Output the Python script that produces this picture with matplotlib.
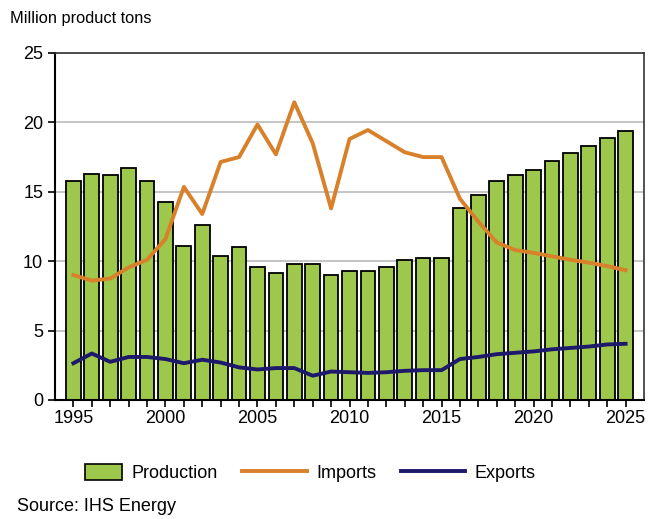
import numpy as np
import matplotlib.pyplot as plt
from matplotlib.patches import Patch
from matplotlib.lines import Line2D
from matplotlib.legend_handler import HandlerPatch

plt.rcParams['font.family'] = ['Liberation Sans', 'DejaVu Sans']

years = list(range(1995, 2026))
production = [15.8, 16.3, 16.2, 16.7, 15.8, 14.3, 11.1, 12.6, 10.35, 11.0,
              9.55, 9.15, 9.8, 9.8, 9.0, 9.3, 9.3, 9.55, 10.05, 10.2,
              10.2, 13.8, 14.75, 15.8, 16.2, 16.6, 17.25, 17.8, 18.3, 18.85, 19.4]
imports = [9.0, 8.6, 8.75, 9.55, 10.1, 11.6, 15.35, 13.4, 17.15, 17.5,
           19.85, 17.7, 21.45, 18.5, 13.8, 18.8, 19.45, 18.65, 17.85, 17.5,
           17.5, 14.5, 12.85, 11.35, 10.8, 10.6, 10.35, 10.1, 9.9, 9.65, 9.35]
exports = [2.65, 3.35, 2.75, 3.1, 3.1, 2.95, 2.65, 2.9, 2.7, 2.35,
           2.2, 2.3, 2.3, 1.75, 2.05, 2.0, 1.95, 2.0, 2.1, 2.15,
           2.15, 2.95, 3.1, 3.3, 3.4, 3.5, 3.65, 3.75, 3.85, 4.0, 4.05]

green = '#9DC84B'
orange = '#D9802A'
navy = '#1E1A6B'


# legend box for the bars is shorter than the line handles
class ShortPatch(HandlerPatch):
    def legend_artist(self, legend, orig_handle, fontsize, handlebox):
        handlebox.width = 26.5
        return super().legend_artist(legend, orig_handle, fontsize, handlebox)


fig = plt.figure(figsize=(6.62, 5.19), dpi=100)
ax = fig.add_axes([0.0831, 0.2293, 0.8897, 0.6686])

ax.bar(years, production, width=0.8, color=green, edgecolor='black', linewidth=1.3, zorder=2)
ax.plot(years, imports, color=orange, linewidth=2.8, zorder=3)
ax.plot(years, exports, color=navy, linewidth=2.8, zorder=3)

ax.set_xlim(1994.0, 2026.0)
ax.set_ylim(0, 25)
ax.set_yticks([0, 5, 10, 15, 20, 25])
ax.set_xticks(years, minor=True)
ax.set_xticks([1995, 2000, 2005, 2010, 2015, 2020, 2025])
ax.yaxis.grid(True, color='#C0C0C0', linewidth=1.3, zorder=0)
ax.set_axisbelow(True)

ax.tick_params(axis='both', labelsize=13, direction='out', length=5, width=1.2, colors='black')
ax.tick_params(axis='x', which='minor', direction='out', length=5, width=1.2)
ax.tick_params(axis='x', pad=2)
for s in ['left', 'bottom']:
    ax.spines[s].set_linewidth(1.5)
for s in ['top', 'right']:
    ax.spines[s].set_linewidth(1.2)
    ax.spines[s].set_color('#333333')

fig.text(0.015, 0.965, 'Million product tons', fontsize=11.8, va='center', ha='left')

handles = [Patch(facecolor=green, edgecolor='black', linewidth=1.2, label='Production'),
           Line2D([0], [0], color=orange, linewidth=2.8, label='Imports'),
           Line2D([0], [0], color=navy, linewidth=2.8, label='Exports')]
fig.legend(handles=handles, loc='center', bbox_to_anchor=(0.469, 0.088), ncol=3,
           frameon=False, fontsize=13, handlelength=3.55, handleheight=0.95,
           columnspacing=1.35, handletextpad=0.55,
           handler_map={Patch: ShortPatch()})

fig.text(0.026, 0.024, 'Source: IHS Energy', fontsize=13, va='center', ha='left')

fig.savefig('out.png', dpi=100)
